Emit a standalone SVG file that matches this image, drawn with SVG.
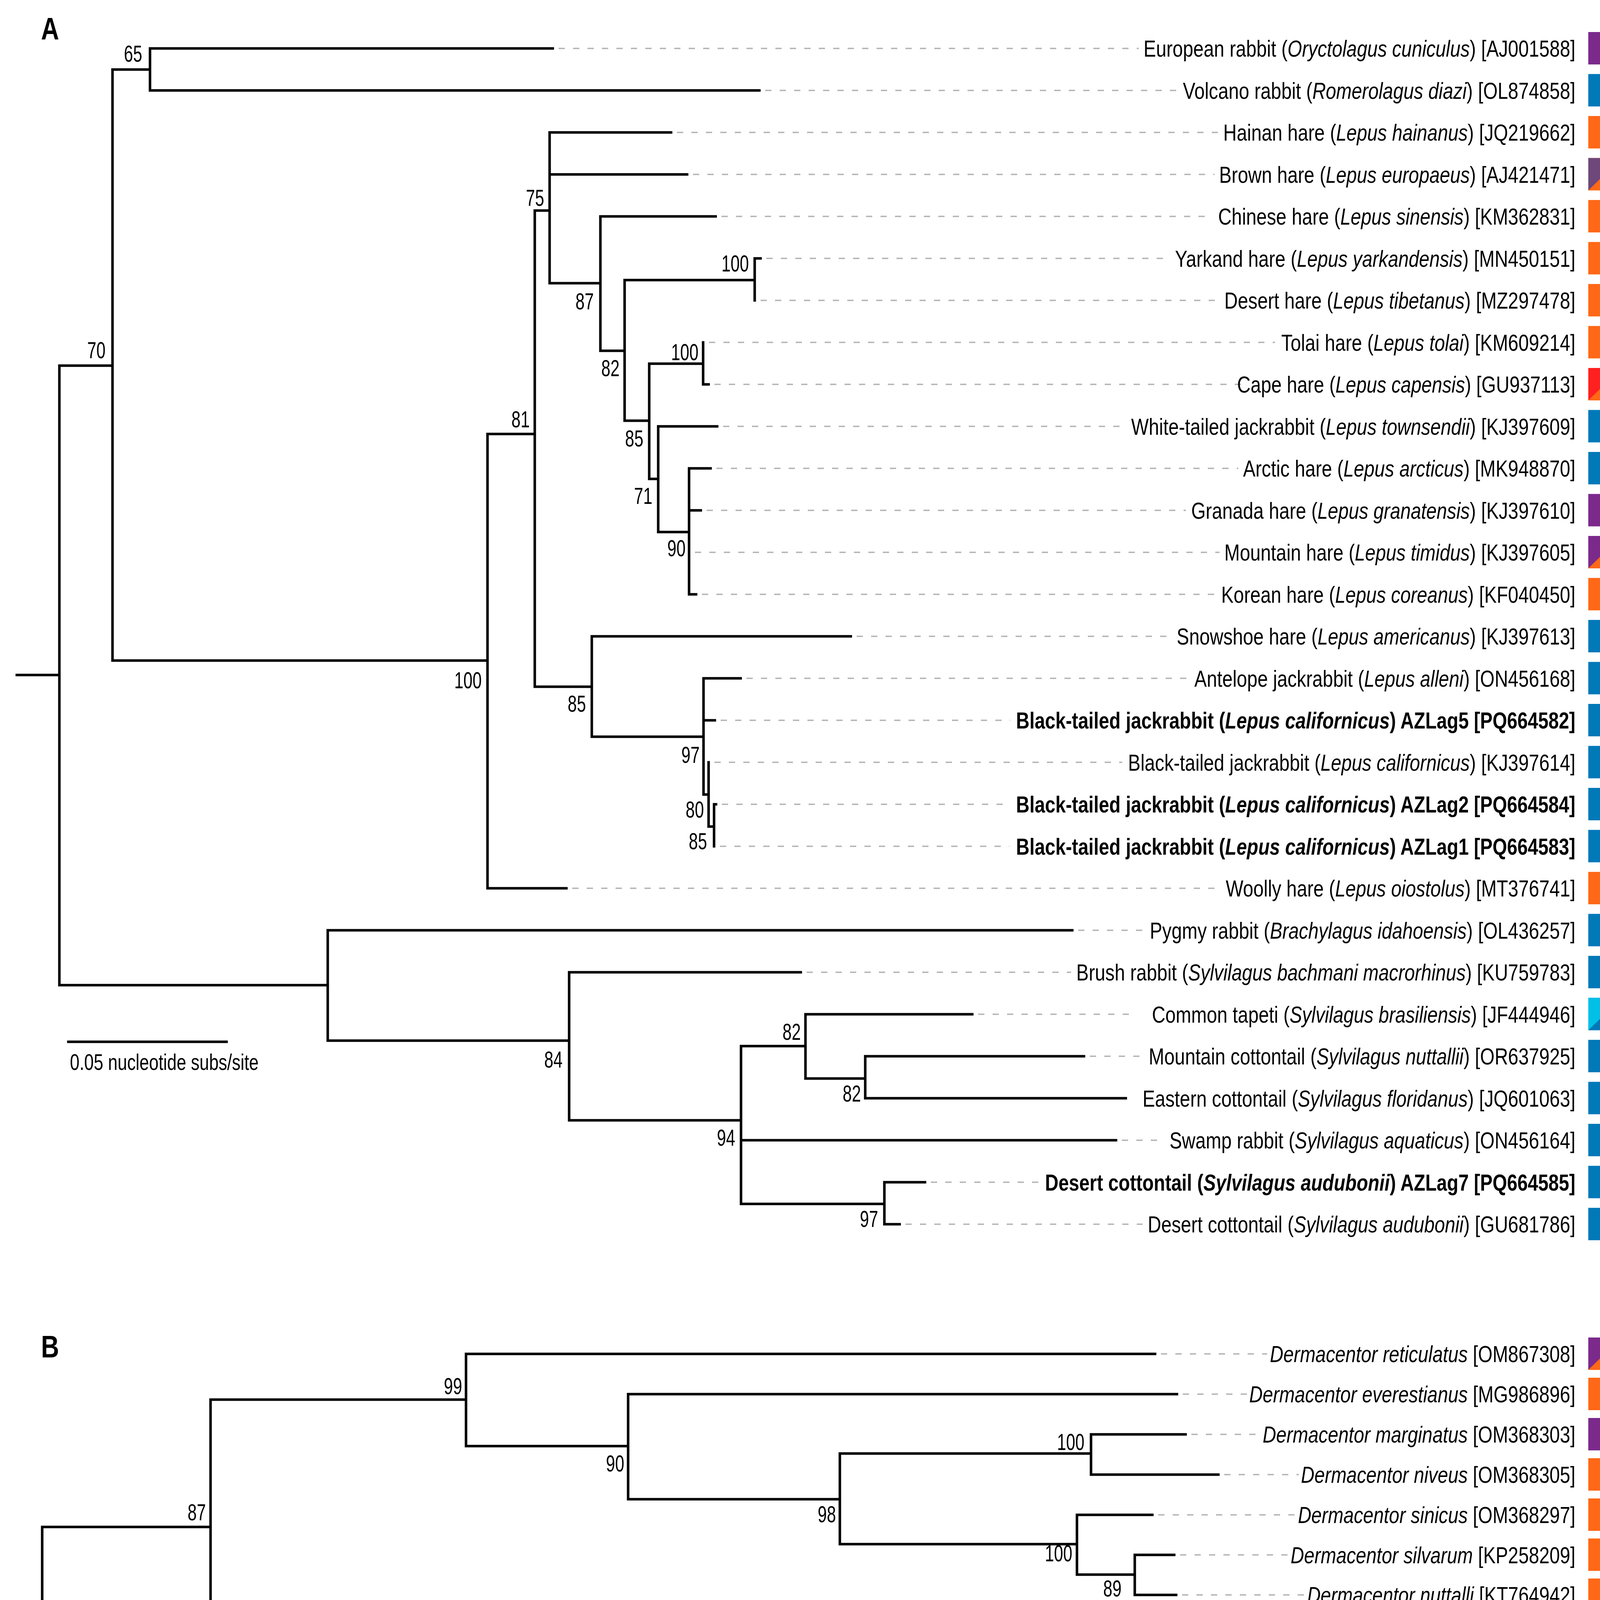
<svg xmlns="http://www.w3.org/2000/svg" width="4177" height="5312" viewBox="0 0 4177 5312">
<style>
text{font-family:"Liberation Sans",Arial,sans-serif;fill:#000}
.t{font-size:60px;text-anchor:end}
.bs{font-size:60px;text-anchor:end}
.b{font-weight:bold}
.i{font-style:italic}
.pl{font-size:80px;font-weight:bold}
.sc{font-size:57px}
.lg{font-size:64px}
.br{fill:none;stroke:#000;stroke-width:6.5;stroke-linecap:square}
.ld{fill:none;stroke:#b4b4b4;stroke-width:3.5;stroke-dasharray:16 21}
.eu{fill:#7b2a8c}.as{fill:#ff6816}.na{fill:#0079b9}.af{fill:#ff2020}.sa{fill:#00c0e8}.eu2{fill:#6e477b}
</style>
<rect width="4177" height="5312" fill="#fff"/>
<text class="pl" transform="translate(105,101) scale(0.8,1)">A</text>
<text class="pl" transform="translate(105,3475) scale(0.8,1)">B</text>

<g id="connectors">
<path class="br" d="M43,1728H152M152,936V2522M152,936H288M152,2522H839
M288,178V1691M288,178H384M288,1691H1248
M384,124V231.5M384,124H1415M384,231.5H1944
M1248,1111V2274M1248,1111H1369M1248,2274H1450
M1369,539V1758M1369,539H1407M1369,1758H1515
M1407,339V725M1407,339H1718M1407,446.5H1759M1407,725H1537
M1537,554V898M1537,554H1832M1537,898H1599
M1599,717V1077M1599,717H1932M1599,1077H1662
M1932,661.5V769M1932,661.5H1947
M1662,931V1226M1662,931H1800M1662,1226H1685
M1800,876.5V984M1800,984H1814
M1685,1091.5V1362M1685,1091.5H1836M1685,1362H1764
M1764,1199V1521.5M1764,1199H1819M1764,1306.5H1794M1764,1521.5H1782
M1515,1629V1886M1515,1629H2178M1515,1886H1801
M1801,1736.5V2034M1801,1736.5H1896M1801,1844H1830M1801,2034H1814
M1814,1951.5V2116M1814,2116H1828
M1828,2059V2166.5M1828,2059H1833
M839,2381.5V2664M839,2381.5H2745M839,2664H1457
M1457,2489V2868M1457,2489H2050M1457,2868H1897
M1897,2678V3082M1897,2678H2062M1897,2919H2857M1897,3082H2264
M2062,2596.5V2761M2062,2596.5H2489M2062,2761H2215
M2215,2704V2811.5M2215,2704H2775M2215,2811.5H2882
M2264,3026.5V3134M2264,3026.5H2368M2264,3134H2303"/>
<path class="br" d="M43,4314H108M108,3909V4736M108,3909H539M108,4736H1241
M539,3583V4236M539,3583H1193M539,4236H1361
M1193,3466V3702M1193,3466H2957M1193,3702H1608
M1608,3569V3838M1608,3569H3013M1608,3838H2150
M2150,3721V3953M2150,3721H2793M2150,3953H2757
M2793,3672V3775M2793,3672H3035M2793,3775H3119
M2757,3878V4031M2757,3878H2950M2757,4031H2905
M2905,3980.5V4083M2905,3980.5H3006M2905,4083H3011
M1361,4186V4289M1361,4186H2712M1361,4289H3337
M1241,4480V5010M1241,4480H1812M1241,4855H1690M1241,5010H2450
M1812,4392V4569M1812,4392H1913M1812,4569H1927
M1927,4495V4646M1927,4495H1950M1927,4646H1985
M1985,4598V4701M1985,4598H2048M1985,4701H2031
M1690,4804V4907M1690,4804H2843M1690,4907H3095"/>
<path class="ld" d="M1430,124H2915M1959,231.5H3014M1733,339H3119M1774,446.5H3109M1847,554H3105M1962,661.5H2991M1947,769H3122M1815,876.5H3264M1829,984H3181M1851,1091.5H2883M1834,1199H3170M1809,1306.5H3036M1779,1414H3122M1797,1521.5H3114M2193,1629H3000M1911,1736.5H3045M1845,1844H2586M1829,1951.5H2873M1848,2059H2584M1843,2166.5H2584M1465,2274H3124M2760,2381.5H2929M2065,2489H2742M2504,2596.5H2897M2790,2704H2929M2872,2919H2978M2383,3026.5H2659M2318,3134H2925"/>
<path class="ld" d="M2972,3466H3244M3028,3569H3192M3050,3672H3226M3134,3775H3325M2965,3878H3314M3021,3980.5H3299M3026,4083H3340M2727,4186H3295M1928,4392H3256M1965,4495H2933M2063,4598H2935M2046,4701H3173M2858,4804H3260M3110,4907H3344M2465,5010H3283"/>
</g>

<g id="bootstrap">
<text class="bs" transform="translate(364,158) scale(0.7,1)">65</text>
<text class="bs" transform="translate(270,917) scale(0.7,1)">70</text>
<text class="bs" transform="translate(1233,1762) scale(0.7,1)">100</text>
<text class="bs" transform="translate(1356,1094) scale(0.7,1)">81</text>
<text class="bs" transform="translate(1393,527) scale(0.7,1)">75</text>
<text class="bs" transform="translate(1520,792) scale(0.7,1)">87</text>
<text class="bs" transform="translate(1586,963) scale(0.7,1)">82</text>
<text class="bs" transform="translate(1917,695) scale(0.7,1)">100</text>
<text class="bs" transform="translate(1647,1143) scale(0.7,1)">85</text>
<text class="bs" transform="translate(1788,922) scale(0.7,1)">100</text>
<text class="bs" transform="translate(1670,1290) scale(0.7,1)">71</text>
<text class="bs" transform="translate(1755,1424) scale(0.7,1)">90</text>
<text class="bs" transform="translate(1500,1822) scale(0.7,1)">85</text>
<text class="bs" transform="translate(1791,1953) scale(0.7,1)">97</text>
<text class="bs" transform="translate(1802,2093) scale(0.7,1)">80</text>
<text class="bs" transform="translate(1810,2174) scale(0.7,1)">85</text>
<text class="bs" transform="translate(1440,2733) scale(0.7,1)">84</text>
<text class="bs" transform="translate(1882,2933) scale(0.7,1)">94</text>
<text class="bs" transform="translate(2050,2662) scale(0.7,1)">82</text>
<text class="bs" transform="translate(2204,2820) scale(0.7,1)">82</text>
<text class="bs" transform="translate(2248,3141) scale(0.7,1)">97</text>
<text class="bs" transform="translate(1183,3569) scale(0.7,1)">99</text>
<text class="bs" transform="translate(527,3892) scale(0.7,1)">87</text>
<text class="bs" transform="translate(1598,3767) scale(0.7,1)">90</text>
<text class="bs" transform="translate(2140,3897) scale(0.7,1)">98</text>
<text class="bs" transform="translate(2776,3712) scale(0.7,1)">100</text>
<text class="bs" transform="translate(2745,3997) scale(0.7,1)">100</text>
<text class="bs" transform="translate(2871,4087) scale(0.7,1)">89</text>
<text class="bs" transform="translate(1351,4295) scale(0.7,1)">99</text>
<text class="bs" transform="translate(1229,4803) scale(0.7,1)">100</text>
<text class="bs" transform="translate(1806,4458) scale(0.7,1)">100</text>
<text class="bs" transform="translate(1917,4630) scale(0.7,1)">91</text>
<text class="bs" transform="translate(1973,4708) scale(0.7,1)">87</text>
<text class="bs" transform="translate(1679,4844) scale(0.7,1)">95</text>
</g>

<g id="scalebars">
<path class="br" d="M175,2667H580M173,4864H819"/>
<text class="sc" transform="translate(179,2739) scale(0.77,1)">0.05 nucleotide subs/site</text>
<text class="sc" transform="translate(179,4938) scale(0.77,1)">0.05 nucleotide subs/site</text>
</g>

<g id="taxa-A">
<g id="a00"><rect class="eu" x="4066" y="82" width="85" height="83"/><text class="t" transform="translate(4033,145) scale(0.795,1)">European rabbit (<tspan class="i">Oryctolagus cuniculus</tspan>) [AJ001588]</text></g>
<g id="a01"><rect class="na" x="4066" y="189.5" width="85" height="83"/><text class="t" transform="translate(4033,252.5) scale(0.795,1)">Volcano rabbit (<tspan class="i">Romerolagus diazi</tspan>) [OL874858]</text></g>
<g id="a02"><rect class="as" x="4066" y="297" width="85" height="83"/><text class="t" transform="translate(4033,360) scale(0.795,1)">Hainan hare (<tspan class="i">Lepus hainanus</tspan>) [JQ219662]</text></g>
<g id="a03"><rect class="as" x="4066" y="404.5" width="85" height="83"/><polygon class="eu2" points="4066,404.5 4151,404.5 4066,487.5"/><text class="t" transform="translate(4033,467.5) scale(0.795,1)">Brown hare (<tspan class="i">Lepus europaeus</tspan>) [AJ421471]</text></g>
<g id="a04"><rect class="as" x="4066" y="512" width="85" height="83"/><text class="t" transform="translate(4033,575) scale(0.795,1)">Chinese hare (<tspan class="i">Lepus sinensis</tspan>) [KM362831]</text></g>
<g id="a05"><rect class="as" x="4066" y="619.5" width="85" height="83"/><text class="t" transform="translate(4033,682.5) scale(0.795,1)">Yarkand hare (<tspan class="i">Lepus yarkandensis</tspan>) [MN450151]</text></g>
<g id="a06"><rect class="as" x="4066" y="727" width="85" height="83"/><text class="t" transform="translate(4033,790) scale(0.795,1)">Desert hare (<tspan class="i">Lepus tibetanus</tspan>) [MZ297478]</text></g>
<g id="a07"><rect class="as" x="4066" y="834.5" width="85" height="83"/><text class="t" transform="translate(4033,897.5) scale(0.795,1)">Tolai hare (<tspan class="i">Lepus tolai</tspan>) [KM609214]</text></g>
<g id="a08"><rect class="as" x="4066" y="942" width="85" height="83"/><polygon class="af" points="4066,942 4151,942 4066,1025"/><text class="t" transform="translate(4033,1005) scale(0.795,1)">Cape hare (<tspan class="i">Lepus capensis</tspan>) [GU937113]</text></g>
<g id="a09"><rect class="na" x="4066" y="1049.5" width="85" height="83"/><text class="t" transform="translate(4033,1112.5) scale(0.795,1)">White-tailed jackrabbit (<tspan class="i">Lepus townsendii</tspan>) [KJ397609]</text></g>
<g id="a10"><rect class="na" x="4066" y="1157" width="85" height="83"/><text class="t" transform="translate(4033,1220) scale(0.795,1)">Arctic hare (<tspan class="i">Lepus arcticus</tspan>) [MK948870]</text></g>
<g id="a11"><rect class="eu" x="4066" y="1264.5" width="85" height="83"/><text class="t" transform="translate(4033,1327.5) scale(0.795,1)">Granada hare (<tspan class="i">Lepus granatensis</tspan>) [KJ397610]</text></g>
<g id="a12"><rect class="as" x="4066" y="1372" width="85" height="83"/><polygon class="eu" points="4066,1372 4151,1372 4066,1455"/><text class="t" transform="translate(4033,1435) scale(0.795,1)">Mountain hare (<tspan class="i">Lepus timidus</tspan>) [KJ397605]</text></g>
<g id="a13"><rect class="as" x="4066" y="1479.5" width="85" height="83"/><text class="t" transform="translate(4033,1542.5) scale(0.795,1)">Korean hare (<tspan class="i">Lepus coreanus</tspan>) [KF040450]</text></g>
<g id="a14"><rect class="na" x="4066" y="1587" width="85" height="83"/><text class="t" transform="translate(4033,1650) scale(0.795,1)">Snowshoe hare (<tspan class="i">Lepus americanus</tspan>) [KJ397613]</text></g>
<g id="a15"><rect class="na" x="4066" y="1694.5" width="85" height="83"/><text class="t" transform="translate(4033,1757.5) scale(0.795,1)">Antelope jackrabbit (<tspan class="i">Lepus alleni</tspan>) [ON456168]</text></g>
<g id="a16"><rect class="na" x="4066" y="1802" width="85" height="83"/><text class="t b" transform="translate(4033,1865) scale(0.795,1)">Black-tailed jackrabbit (<tspan class="i">Lepus californicus</tspan>) AZLag5 [PQ664582]</text></g>
<g id="a17"><rect class="na" x="4066" y="1909.5" width="85" height="83"/><text class="t" transform="translate(4033,1972.5) scale(0.795,1)">Black-tailed jackrabbit (<tspan class="i">Lepus californicus</tspan>) [KJ397614]</text></g>
<g id="a18"><rect class="na" x="4066" y="2017" width="85" height="83"/><text class="t b" transform="translate(4033,2080) scale(0.795,1)">Black-tailed jackrabbit (<tspan class="i">Lepus californicus</tspan>) AZLag2 [PQ664584]</text></g>
<g id="a19"><rect class="na" x="4066" y="2124.5" width="85" height="83"/><text class="t b" transform="translate(4033,2187.5) scale(0.795,1)">Black-tailed jackrabbit (<tspan class="i">Lepus californicus</tspan>) AZLag1 [PQ664583]</text></g>
<g id="a20"><rect class="as" x="4066" y="2232" width="85" height="83"/><text class="t" transform="translate(4033,2295) scale(0.795,1)">Woolly hare (<tspan class="i">Lepus oiostolus</tspan>) [MT376741]</text></g>
<g id="a21"><rect class="na" x="4066" y="2339.5" width="85" height="83"/><text class="t" transform="translate(4033,2402.5) scale(0.795,1)">Pygmy rabbit (<tspan class="i">Brachylagus idahoensis</tspan>) [OL436257]</text></g>
<g id="a22"><rect class="na" x="4066" y="2447" width="85" height="83"/><text class="t" transform="translate(4033,2510) scale(0.795,1)">Brush rabbit (<tspan class="i">Sylvilagus bachmani macrorhinus</tspan>) [KU759783]</text></g>
<g id="a23"><rect class="na" x="4066" y="2554.5" width="85" height="83"/><polygon class="sa" points="4066,2554.5 4151,2554.5 4066,2637.5"/><text class="t" transform="translate(4033,2617.5) scale(0.795,1)">Common tapeti (<tspan class="i">Sylvilagus brasiliensis</tspan>) [JF444946]</text></g>
<g id="a24"><rect class="na" x="4066" y="2662" width="85" height="83"/><text class="t" transform="translate(4033,2725) scale(0.795,1)">Mountain cottontail (<tspan class="i">Sylvilagus nuttallii</tspan>) [OR637925]</text></g>
<g id="a25"><rect class="na" x="4066" y="2769.5" width="85" height="83"/><text class="t" transform="translate(4033,2832.5) scale(0.795,1)">Eastern cottontail (<tspan class="i">Sylvilagus floridanus</tspan>) [JQ601063]</text></g>
<g id="a26"><rect class="na" x="4066" y="2877" width="85" height="83"/><text class="t" transform="translate(4033,2940) scale(0.795,1)">Swamp rabbit (<tspan class="i">Sylvilagus aquaticus</tspan>) [ON456164]</text></g>
<g id="a27"><rect class="na" x="4066" y="2984.5" width="85" height="83"/><text class="t b" transform="translate(4033,3047.5) scale(0.795,1)">Desert cottontail (<tspan class="i">Sylvilagus audubonii</tspan>) AZLag7 [PQ664585]</text></g>
<g id="a28"><rect class="na" x="4066" y="3092" width="85" height="83"/><text class="t" transform="translate(4033,3155) scale(0.795,1)">Desert cottontail (<tspan class="i">Sylvilagus audubonii</tspan>) [GU681786]</text></g>
</g>

<g id="taxa-B">
<g id="b00"><rect class="as" x="4066" y="3424" width="85" height="83"/><polygon class="eu" points="4066,3424 4151,3424 4066,3507"/><text class="t" transform="translate(4033,3487) scale(0.795,1)"><tspan class="i">Dermacentor reticulatus</tspan> [OM867308]</text></g>
<g id="b01"><rect class="as" x="4066" y="3527" width="85" height="83"/><text class="t" transform="translate(4033,3590) scale(0.795,1)"><tspan class="i">Dermacentor everestianus</tspan> [MG986896]</text></g>
<g id="b02"><rect class="eu" x="4066" y="3630" width="85" height="83"/><text class="t" transform="translate(4033,3693) scale(0.795,1)"><tspan class="i">Dermacentor marginatus</tspan> [OM368303]</text></g>
<g id="b03"><rect class="as" x="4066" y="3733" width="85" height="83"/><text class="t" transform="translate(4033,3796) scale(0.795,1)"><tspan class="i">Dermacentor niveus</tspan> [OM368305]</text></g>
<g id="b04"><rect class="as" x="4066" y="3836" width="85" height="83"/><text class="t" transform="translate(4033,3899) scale(0.795,1)"><tspan class="i">Dermacentor sinicus</tspan> [OM368297]</text></g>
<g id="b05"><rect class="as" x="4066" y="3938.5" width="85" height="83"/><text class="t" transform="translate(4033,4001.5) scale(0.795,1)"><tspan class="i">Dermacentor silvarum</tspan> [KP258209]</text></g>
<g id="b06"><rect class="as" x="4066" y="4041" width="85" height="83"/><text class="t" transform="translate(4033,4104) scale(0.795,1)"><tspan class="i">Dermacentor nuttalli</tspan> [KT764942]</text></g>
<g id="b07"><rect class="as" x="4066" y="4144" width="85" height="83"/><text class="t" transform="translate(4033,4207) scale(0.795,1)"><tspan class="i">Dermacentor auratus</tspan> [MW034677]</text></g>
<g id="b08"><rect class="as" x="4066" y="4247" width="85" height="83"/><text class="t" transform="translate(4033,4310) scale(0.795,1)"><tspan class="i">Dermacentor steini</tspan> [OM368299]</text></g>
<g id="b09"><rect class="na" x="4066" y="4350" width="85" height="83"/><text class="t" transform="translate(4033,4413) scale(0.795,1)"><tspan class="i">Dermacentor andersoni</tspan> [MN485890]</text></g>
<g id="b10"><rect class="na" x="4066" y="4453" width="85" height="83"/><text class="t b" transform="translate(4033,4516) scale(0.795,1)"><tspan class="i">Dermacentor parumapertus</tspan> AZLag2 [PQ664581]</text></g>
<g id="b11"><rect class="na" x="4066" y="4556" width="85" height="83"/><text class="t b" transform="translate(4033,4619) scale(0.795,1)"><tspan class="i">Dermacentor parumapertus</tspan> AZLag1 [PQ664580]</text></g>
<g id="b12"><rect class="na" x="4066" y="4659" width="85" height="83"/><text class="t" transform="translate(4033,4722) scale(0.795,1)"><tspan class="i">Dermacentor parumapertus</tspan> [MN650043]</text></g>
<g id="b13"><rect class="na" x="4066" y="4762" width="85" height="83"/><text class="t" transform="translate(4033,4825) scale(0.795,1)"><tspan class="i">Dermacentor albipictus</tspan> [OM678457]</text></g>
<g id="b14"><rect class="na" x="4066" y="4865" width="85" height="83"/><polygon class="sa" points="4066,4865 4151,4865 4066,4948"/><text class="t" transform="translate(4033,4928) scale(0.795,1)"><tspan class="i">Dermacentor nitens</tspan> [KC503258]</text></g>
<g id="b15"><rect class="na" x="4066" y="4968" width="85" height="83"/><text class="t" transform="translate(4033,5031) scale(0.795,1)"><tspan class="i">Dermacentor variabilis</tspan> [MN175686]</text></g>
</g>

<g id="legend">
<text class="lg b" transform="translate(1839,5147) scale(0.78,1)">Origin</text>
<path d="M1834,5186H4130" stroke="#000" stroke-width="5"/>
<rect class="af" x="1834" y="5215" width="68" height="71"/>
<text class="lg" transform="translate(1918,5271) scale(0.8,1)">Africa</text>
<rect class="as" x="2245" y="5215" width="68" height="71"/>
<text class="lg" transform="translate(2329,5271) scale(0.8,1)">Asia</text>
<rect class="eu" x="2629" y="5215" width="68" height="71"/>
<text class="lg" transform="translate(2714,5271) scale(0.8,1)">Europe</text>
<rect class="na" x="3052" y="5215" width="68" height="71"/>
<text class="lg" transform="translate(3138,5271) scale(0.8,1)">North America</text>
<rect class="sa" x="3662" y="5215" width="68" height="71"/>
<text class="lg" transform="translate(3749,5271) scale(0.8,1)">South America</text>
</g>
</svg>
